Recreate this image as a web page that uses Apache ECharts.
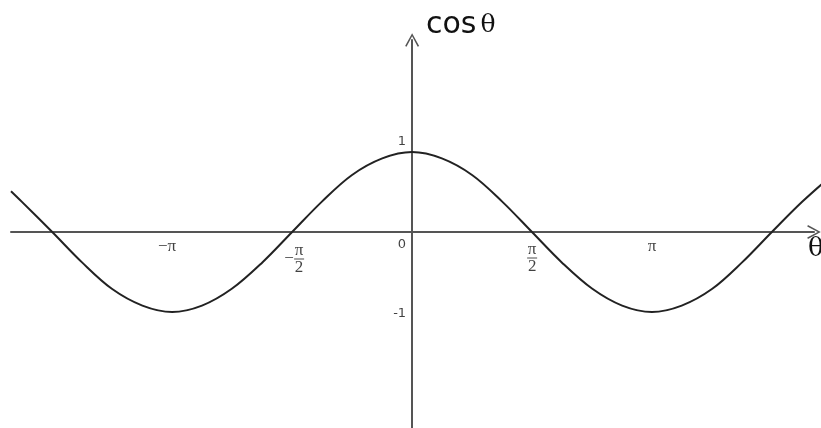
<!DOCTYPE html>
<html>
<head>
<meta charset="utf-8">
<script src="https://cdn.jsdelivr.net/npm/echarts@6/dist/echarts.min.js"></script>
<style>
  html, body { margin: 0; padding: 0; background: #fff; }
  #chart { width: 821px; height: 428px; }
</style>
</head>
<body>
<div id="chart"></div>
<script>
// theta (rad) and cos values
var thetaVals = [-5.25, -5.11, -4.71, -4.32, -3.93, -3.53, -3.14, -2.75, -2.36, -1.96,
  -1.57, -1.18, -0.79, -0.39, 0, 0.39, 0.79, 1.18, 1.57, 1.96, 2.36, 2.75, 3.14,
  3.53, 3.93, 4.32, 4.71, 5.11, 5.50];
var cosVals = [0.51, 0.38, 0, -0.38, -0.71, -0.92, -1, -0.92, -0.71, -0.38,
  0, 0.38, 0.71, 0.92, 1, 0.92, 0.71, 0.38, 0,
  -0.38, -0.71, -0.92, -1, -0.92, -0.71, -0.38, 0, 0.38, 0.71];

var xTickVals = [-Math.PI, -Math.PI / 2, Math.PI / 2, Math.PI];
var xTickText = ['{p|−π}', '{g|}{n|π}\n{m|−}{bar| }\n{g|}{d|2}', '{n|π}\n{bar| }\n{d|2}', '{p|π}'];
var yTickVals = [1, 0, -1];
var yTickText = ['1', '0', '-1'];

var chart = echarts.init(document.getElementById('chart'));

var curve = [];
for (var i = 0; i < thetaVals.length; i++) {
  curve.push([thetaVals[i], cosVals[i]]);
}

// label nudges (px) so the tick texts sit like the original drawing
var xNudge = [[-5, 6], [2, 13], [0, 12], [0, 6]];
var yNudge = [[0, -10], [0, 13], [0, 2]];

var tickLabels = [];
xTickVals.forEach(function (v, i) {
  tickLabels.push({
    value: [v, 0],
    label: { formatter: xTickText[i], position: 'bottom', distance: 0, offset: xNudge[i] }
  });
});
yTickVals.forEach(function (v, i) {
  tickLabels.push({
    value: [0, v],
    label: { formatter: yTickText[i], position: 'left', distance: 6, offset: yNudge[i],
      fontFamily: 'DejaVu Sans', fontSize: 13 }
  });
});

// open chevron used as axis arrow
var chevron = 'path://M0,11 L6,0 L12,11 L10.8,11.6 L6,2.6 L1.2,11.6 Z';
var serif = 'Liberation Serif';
var axisColor = '#555';

var hiddenAxis = {
  type: 'value', show: false,
  axisLine: { show: false }, axisTick: { show: false },
  splitLine: { show: false }, axisLabel: { show: false }
};

var option = {
  animation: false,
  grid: [
    // axes grid
    { left: 11, right: 7, top: 40, bottom: 0, outerBoundsMode: 'none' },
    // same scale, but runs past the right edge so the curve is not cut at the arrow
    { left: 11, right: -19, top: 40, bottom: 0, outerBoundsMode: 'none' }
  ],
  xAxis: [
    {
      type: 'value',
      gridIndex: 0,
      min: -5.25,
      max: 5.26,
      axisLine: {
        onZero: true,
        symbol: ['none', chevron],
        symbolSize: [14, 14],
        lineStyle: { color: axisColor, width: 2 }
      },
      axisTick: { show: false },
      splitLine: { show: false },
      axisLabel: { show: false }
    },
    Object.assign({ gridIndex: 1, min: -5.25, max: 5.602 }, hiddenAxis)
  ],
  yAxis: [
    {
      type: 'value',
      gridIndex: 0,
      min: -2.45,
      max: 2.4,
      axisLine: {
        onZero: true,
        symbol: ['none', chevron],
        symbolSize: [14, 16],
        lineStyle: { color: axisColor, width: 2 }
      },
      axisTick: { show: false },
      splitLine: { show: false },
      axisLabel: { show: false }
    },
    Object.assign({ gridIndex: 1, min: -2.45, max: 2.4 }, hiddenAxis)
  ],
  graphic: [
    {
      type: 'text', left: 426, top: 10,
      style: {
        text: '{c|cos}{t|θ}',
        rich: {
          c: { fontFamily: 'DejaVu Sans', fontSize: 30, fill: '#111' },
          t: { fontFamily: 'DejaVu Serif', fontSize: 25, fill: '#111', padding: [0, 0, 0, 4] }
        }
      }
    },
    {
      type: 'text', left: 808, top: 236,
      style: { text: 'θ', fontFamily: 'DejaVu Serif', fontSize: 26, fill: '#111' }
    }
  ],
  series: [
    {
      type: 'line',
      xAxisIndex: 1,
      yAxisIndex: 1,
      data: curve,
      smooth: 0.35,
      showSymbol: false,
      lineStyle: { color: '#222', width: 2 }
    },
    {
      type: 'scatter',
      xAxisIndex: 0,
      yAxisIndex: 0,
      data: tickLabels,
      symbolSize: 0,
      silent: true,
      label: {
        show: true,
        color: '#111',
        rich: {
          p: { fontFamily: serif, fontSize: 17, color: '#111' },
          g: { width: 10 },
          m: { fontFamily: serif, fontSize: 17, width: 10, lineHeight: 4, color: '#111' },
          n: { fontFamily: serif, fontSize: 17, width: 11, align: 'center', lineHeight: 12, color: '#111' },
          bar: { fontSize: 1, width: 10, height: 1, lineHeight: 4, backgroundColor: '#222' },
          d: { fontFamily: serif, fontSize: 17, width: 11, align: 'center', lineHeight: 14, color: '#111' }
        }
      }
    }
  ]
};

chart.setOption(option);
</script>
</body>
</html>
